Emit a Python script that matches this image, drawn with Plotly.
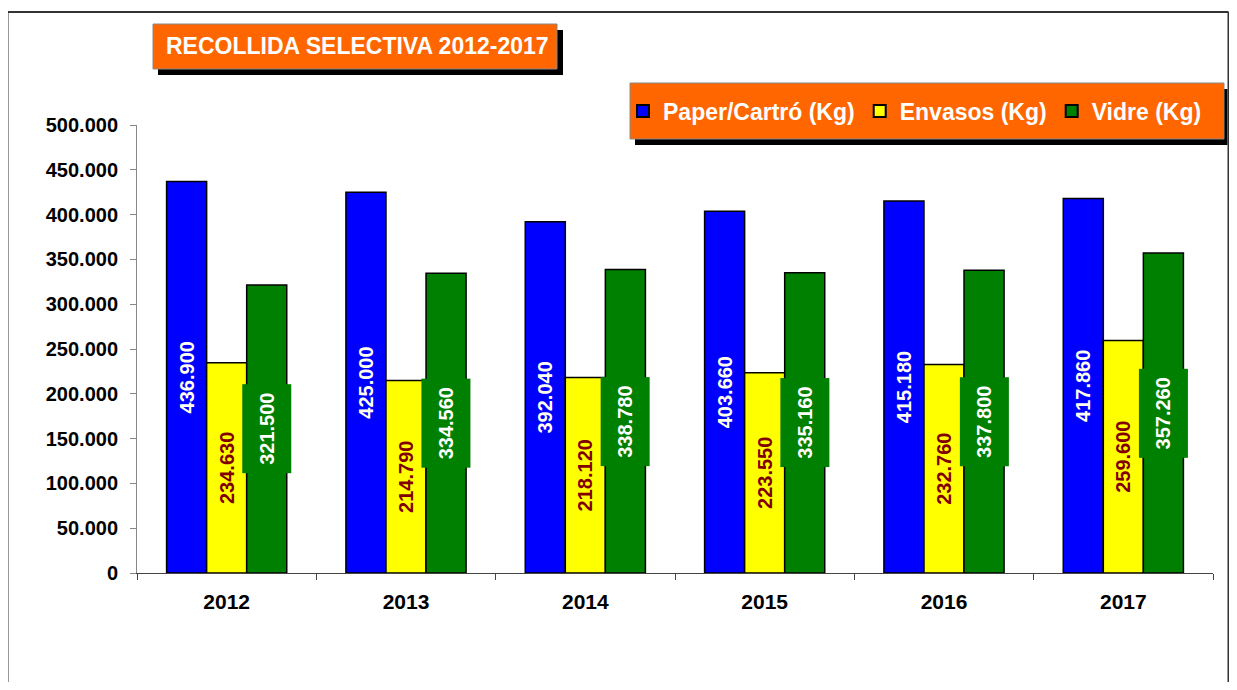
import plotly.graph_objects as go

years = ["2012", "2013", "2014", "2015", "2016", "2017"]
paper = [436900, 425000, 392040, 403660, 415180, 417860]
envasos = [234630, 214790, 218120, 223550, 232760, 259600]
vidre = [321500, 334560, 338780, 335160, 337800, 357260]
series_names = ["Paper/Cartró (Kg)", "Envasos (Kg)", "Vidre (Kg)"]
title_text = "RECOLLIDA SELECTIVA 2012-2017"

# the page body adds an 8px margin; compensate so the picture lines up
OFF = 8
W, H = 1237 - 2 * OFF, 690 - 2 * OFF
ML, MT = 137 - OFF, 125 - OFF
MR = W - (1213 - OFF)
MB = H - (573 - OFF)
PW = W - ML - MR
PH = H - MT - MB
BARGAP = 0.33


def px(x):
    return (x - OFF - ML) / PW


def py(y):
    return (H - MB - (y - OFF)) / PH


FONT = "Liberation Sans, Arial, sans-serif"
line = dict(color="black", width=1.5)

fig = go.Figure()
fig.add_trace(go.Bar(
    x=years, y=paper, name=series_names[0],
    marker=dict(color="#0000FF", line=line),
    texttemplate="%{y:,d}", textposition="inside",
    insidetextanchor="middle", textangle=-90, constraintext="none",
    textfont=dict(color="#FFFFF0", size=20, family=FONT, weight="bold"),
))
fig.add_trace(go.Bar(
    x=years, y=envasos, name=series_names[1],
    marker=dict(color="#FFFF00", line=line),
    texttemplate="%{y:,d}", textposition="inside",
    insidetextanchor="middle", textangle=-90, constraintext="none",
    textfont=dict(color="#800000", size=20, family=FONT, weight="bold"),
))
fig.add_trace(go.Bar(
    x=years, y=vidre, name=series_names[2],
    marker=dict(color="#008000", line=line),
))

# green labels with a box slightly wider than the bar
cat_px = PW / len(years)
bar_px = cat_px * (1 - BARGAP) / 3
annotations = []
for i, v in enumerate(vidre):
    annotations.append(dict(
        x=i, y=v / 2, xref="x", yref="y", xshift=bar_px,
        text=f"{v:,d}".replace(",", "."),
        textangle=-90, showarrow=False, bgcolor="#008000",
        width=86, height=46, align="center", valign="middle",
        font=dict(color="white", size=20, family=FONT, weight="bold"),
    ))

# title text
annotations.append(dict(
    x=px(357), y=py(46), xref="paper", yref="paper", showarrow=False,
    text=title_text,
    font=dict(color="white", size=23, family=FONT, weight="bold"),
    xanchor="center", yanchor="middle",
))

RIGHT = 1228.5
shapes = [
    # outer frame
    dict(type="line", xref="paper", yref="paper", x0=px(7), x1=px(RIGHT), y0=py(12), y1=py(12),
         line=dict(color="#333333", width=2)),
    dict(type="line", xref="paper", yref="paper", x0=px(7), x1=px(7), y0=py(12), y1=py(700),
         line=dict(color="#333333", width=3)),
    dict(type="line", xref="paper", yref="paper", x0=px(RIGHT), x1=px(RIGHT), y0=py(12), y1=py(700),
         line=dict(color="#333333", width=2)),
    # title box shadow + box
    dict(type="rect", xref="paper", yref="paper", x0=px(158), x1=px(563), y0=py(30), y1=py(75),
         fillcolor="black", line=dict(width=0), layer="below"),
    dict(type="rect", xref="paper", yref="paper", x0=px(153), x1=px(557), y0=py(24), y1=py(69),
         fillcolor="#FF6600", line=dict(color="#888888", width=1), layer="below"),
    # legend box shadow + box
    dict(type="rect", xref="paper", yref="paper", x0=px(635), x1=px(RIGHT - 1), y0=py(89), y1=py(145),
         fillcolor="black", line=dict(width=0), layer="below"),
    dict(type="rect", xref="paper", yref="paper", x0=px(630), x1=px(1224), y0=py(83), y1=py(139),
         fillcolor="#FF6600", line=dict(color="#888888", width=1), layer="below"),
]

fig.update_layout(
    width=W, height=H,
    margin=dict(l=ML, r=MR, t=MT, b=MB, autoexpand=False),
    paper_bgcolor="white", plot_bgcolor="rgba(0,0,0,0)",
    barmode="group", bargap=BARGAP, bargroupgap=0,
    separators=",.",
    font=dict(family=FONT, color="black"),
    showlegend=True,
    legend=dict(
        orientation="h", x=px(623), y=py(111), xanchor="left", yanchor="middle",
        bgcolor="rgba(0,0,0,0)",
        font=dict(color="white", size=23, family=FONT, weight="bold"),
        itemsizing="constant", traceorder="normal",
    ),
    annotations=annotations,
    shapes=shapes,
)
fig.update_xaxes(
    type="category", range=[-0.5, len(years) - 0.5], tickson="boundaries",
    ticks="outside", ticklen=6, tickcolor="#444444",
    showline=True, linecolor="#444444", linewidth=1, showgrid=False,
    tickfont=dict(size=21, family=FONT, color="black", weight="bold"),
    ticklabelstandoff=10, tickangle=0,
)
fig.update_yaxes(
    range=[0, 500000], tickvals=[i * 50000 for i in range(11)],
    tickformat=",d", ticks="outside", ticklen=6, tickcolor="#888888",
    showline=True, linecolor="#888888", linewidth=1, showgrid=False,
    zeroline=False,
    tickfont=dict(size=20, family=FONT, color="black", weight="bold"),
    ticklabelstandoff=8,
)

fig.write_html("out.html")
